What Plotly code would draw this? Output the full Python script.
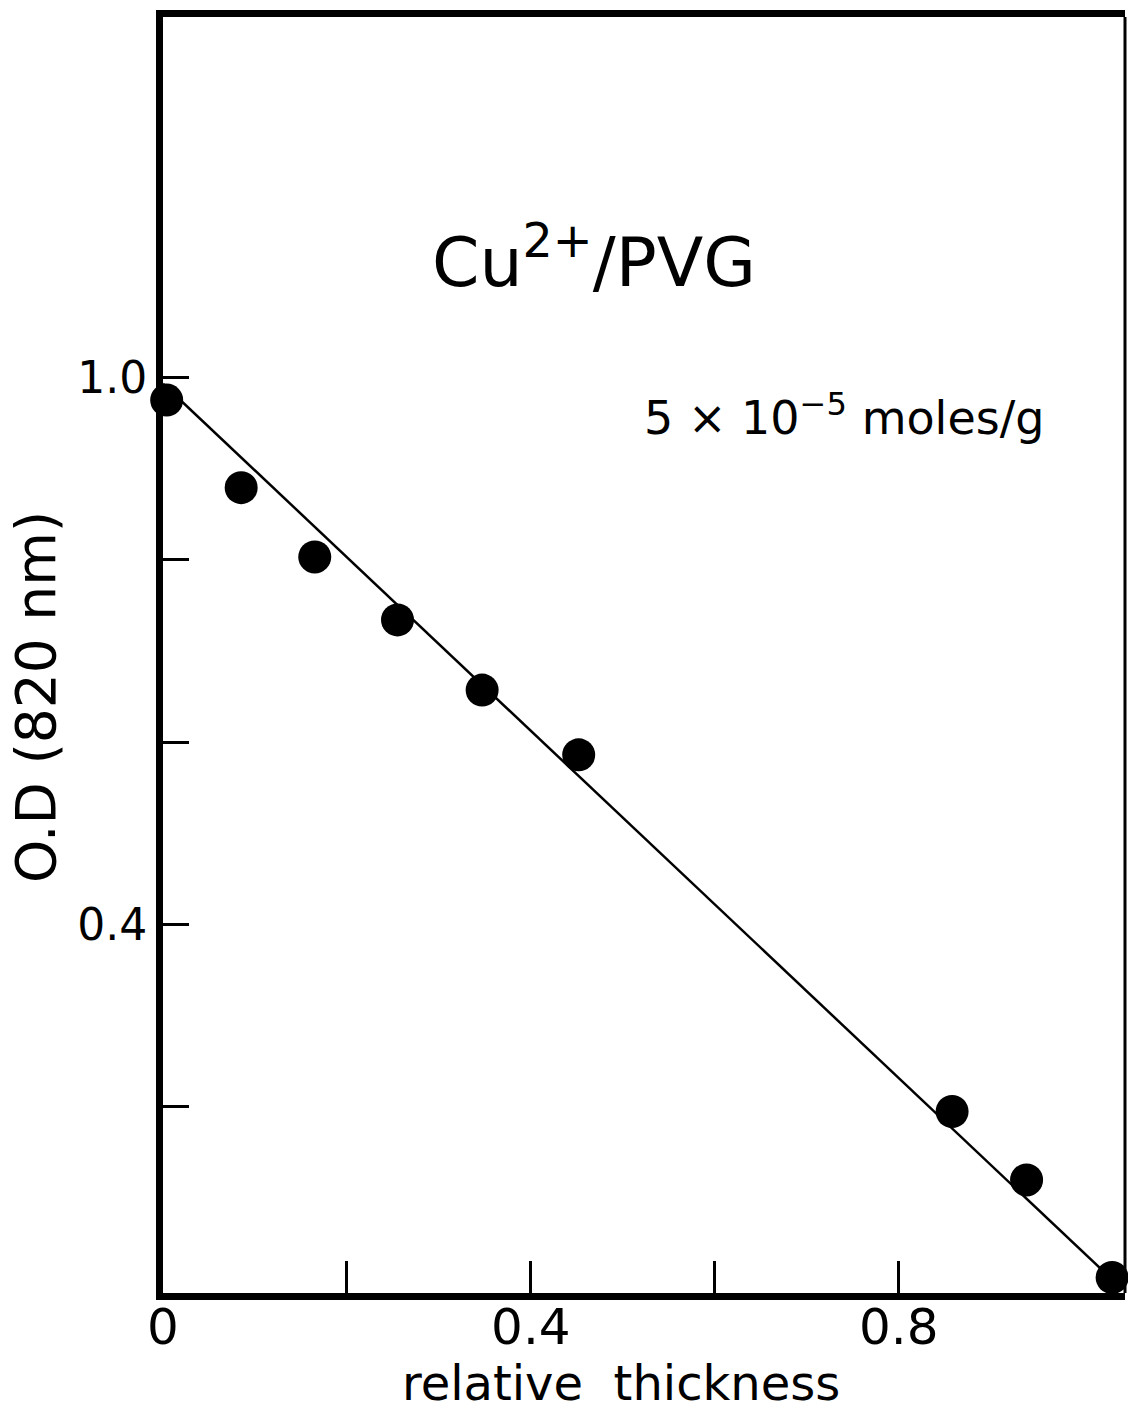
import plotly.graph_objects as go

# Data
thickness = [0.004, 0.085, 0.165, 0.255, 0.347, 0.452, 0.858, 0.939, 1.032]
od_820 = [0.975, 0.879, 0.803, 0.734, 0.657, 0.586, 0.195, 0.120, 0.013]

fit_x = [0.0, 1.035]
fit_y = [0.993, 0.008]

x_tickvals = [0.0, 0.4, 0.8]
x_ticktext = ["0", "0.4", "0.8"]
x_minor_ticks = [0.2, 0.6]
y_tickvals = [0.4, 1.0]
y_ticktext = ["0.4", "1.0"]
y_minor_ticks = [0.2, 0.6, 0.8]

FONT = "DejaVu Sans"
W, H = 1128, 1416
L, R, T, B = 163, 3, 17, 123
pw, ph = W - L - R, H - T - B


def px_x(p):
    return (p - L) / pw


def px_y(p):
    return (H - B - p) / ph


fig = go.Figure()
fig.add_trace(go.Scatter(x=fit_x, y=fit_y, mode="lines",
                         line=dict(color="black", width=2.5),
                         cliponaxis=False, showlegend=False))
fig.add_trace(go.Scatter(x=thickness, y=od_820, mode="markers",
                         marker=dict(color="black", size=33, line=dict(width=0)),
                         cliponaxis=False, showlegend=False))

fig.update_layout(
    width=W, height=H,
    margin=dict(l=L, r=R, t=T, b=B),
    paper_bgcolor="white", plot_bgcolor="white",
    font=dict(family=FONT, color="black"),
    xaxis=dict(range=[0, 1.046], tickmode="array",
               tickvals=x_tickvals, ticktext=x_ticktext,
               ticks="inside", ticklen=32, tickwidth=3, tickcolor="black",
               minor=dict(tickmode="array", tickvals=x_minor_ticks,
                          ticks="inside", ticklen=32, tickwidth=3,
                          tickcolor="black", showgrid=False),
               showline=True, linewidth=7, linecolor="black", mirror=True,
               showgrid=False, zeroline=False, ticklabelstandoff=-16,
               tickfont=dict(family=FONT, size=50, color="black")),
    yaxis=dict(range=[-0.004, 1.395], tickmode="array",
               tickvals=y_tickvals, ticktext=y_ticktext,
               ticks="inside", ticklen=26, tickwidth=3, tickcolor="black",
               minor=dict(tickmode="array", tickvals=y_minor_ticks,
                          ticks="inside", ticklen=26, tickwidth=3,
                          tickcolor="black", showgrid=False),
               showline=True, linewidth=7, linecolor="black", mirror=False,
               showgrid=False, zeroline=False,
               tickfont=dict(family=FONT, size=44, color="black")),
    shapes=[dict(type="line", xref="paper", yref="paper", x0=1, x1=1, y0=0, y1=1,
                 line=dict(color="black", width=3))],
    annotations=[
        dict(text="Cu<sup>2+</sup>/PVG", xref="paper", yref="paper",
             x=px_x(430), y=px_y(258), xanchor="left", yanchor="middle",
             showarrow=False, font=dict(family=FONT, size=68, color="black")),
        dict(text="5 × 10<sup>−5</sup> moles/g", xref="paper", yref="paper",
             x=px_x(642), y=px_y(415), xanchor="left", yanchor="middle",
             showarrow=False, font=dict(family=FONT, size=46, color="black")),
        dict(text="relative  thickness", xref="paper", yref="paper",
             x=px_x(621), y=px_y(1383), xanchor="center", yanchor="middle",
             showarrow=False, font=dict(family=FONT, size=48, color="black")),
        dict(text="O.D (820 nm)", xref="paper", yref="paper",
             x=px_x(36), y=px_y(697), xanchor="center", yanchor="middle",
             textangle=-90, showarrow=False,
             font=dict(family=FONT, size=55, color="black")),
    ],
)

fig.write_html("out.html")
